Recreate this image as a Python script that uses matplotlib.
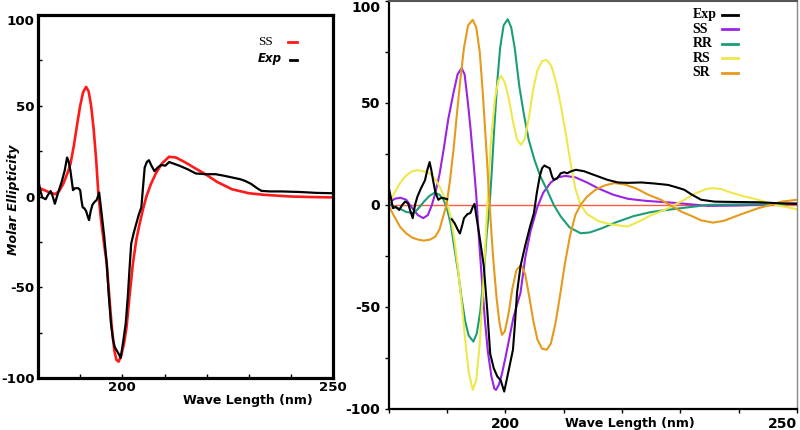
import numpy as np
import matplotlib.pyplot as plt

plt.rcParams['axes.unicode_minus'] = False

# ---- left panel data (SS calc vs experiment) ----
left_ss_x = [180, 181, 182, 183, 184.1, 185, 186, 187, 187.7, 188.5, 189.3, 190, 190.7, 191.4, 192, 192.6,
             193.2, 193.8, 194.3, 194.9, 195.6, 196.3, 196.9, 197.5, 198.1, 198.6, 199.1, 199.7, 200.4, 201,
             201.7, 202.5, 203.3, 204.1, 204.9, 205.7, 206.8, 208, 209.5, 211.1, 212.7, 215, 217.3, 219.7,
             222.5, 226, 230, 233.8, 240, 245, 250]
left_ss_y = [5, 4, 3, 2, 1.3, 3, 7, 13, 18, 28, 40, 50, 57.5, 60.4, 58, 50,
             37, 20, 2, -12, -25, -37, -55, -72, -85, -90, -91, -88, -81, -72,
             -55, -37, -24, -15, -7, 0, 7, 13, 18.5, 21.9, 21.5, 18.7, 15.5, 12.3,
             8, 4, 1.8, 0.9, 0, -0.3, -0.5]

left_exp_x = [180, 180.5, 181, 181.8, 182.4, 183, 183.5, 184, 184.5, 184.9, 185.6, 186.3, 186.9, 187.3, 187.7,
              188.3, 188.7, 189.2, 189.6, 190, 190.3, 190.6, 191, 191.4, 191.8, 192.1, 192.5, 192.9, 193.4,
              193.9, 194.2, 194.5, 195.1, 195.7, 196.3, 196.8, 197.3, 197.8, 198.2, 198.7, 199.2, 199.6, 200.2,
              200.8, 201.3, 201.7, 202.1, 202.7, 203.3, 203.9, 204.5, 204.9, 205.3, 205.8, 206.3, 206.9, 207.6,
              208.4, 209.2, 210.2, 211.1, 212.3, 213.5, 215.5, 217.4, 219.7, 222.1, 224, 226, 228, 229.1, 230.5,
              232, 233, 235, 237.7, 242, 246, 250]
left_exp_y = [9.5, 4, -0.5, -1.5, 1, 3, 0, -4, 0, 3, 8, 14, 21.5, 19, 14,
              3.5, 4.5, 4.6, 4.5, 3.5, -2, -6, -6.5, -8, -11, -13, -8, -4.6, -3,
              -2, 0, 2.2, -9.7, -22, -37, -55, -70, -79, -83, -85, -87, -89, -80,
              -70, -55, -40, -26, -20, -15, -10, -6, 5, 16, 19, 20, 17, 14,
              16, 17.4, 17, 19, 18, 17, 15, 12.7, 12.3, 12.3, 11.5, 10.5, 9.5, 8.6, 7,
              4.5, 3.1, 2.8, 2.8, 2.5, 2, 1.8]

# ---- right panel data ----
exp_x = [180, 180.4, 180.7, 181.2, 181.8, 182.3, 182.8, 183.3, 183.7, 184.1, 184.5, 184.9, 185.5, 186.2, 186.6,
         187, 187.3, 187.6, 188, 188.5, 189, 189.4, 190, 190.4, 190.8, 191.3, 191.8, 192.2, 192.6, 192.9, 193.5,
         194, 194.4, 194.7, 195.1, 195.7, 196.3, 196.9, 197.4, 198, 198.6, 199.2, 199.8, 200.5, 201.3, 201.6,
         202, 202.6, 203.4, 204.2, 204.9, 205.4, 205.9, 206.3, 206.7, 207.2, 207.6, 208, 208.3, 208.9, 209.5,
         210.1, 210.6, 211.3, 212.1, 213.5, 215.2, 217.5, 219.3, 221, 223.3, 225.5, 227.9, 229.5, 230.7, 232,
         233.6, 235.9, 240, 243.4, 247, 250]
exp_y = [8.2, 3, -1.6, -1, -2.5, 0, 1.6, 0.8, -3, -6.5, 0, 4, 8, 12, 17,
         21, 17, 12, 6, 2.5, 3.5, 3.3, 2.8, np.nan, -7, -9, -12, -14, -10, -6.5, -4.5,
         -4, -1, 0.5, -7, -18, -30, -52, -73, -80, -84, -86, -91.5, -82, -71, -60,
         -43, -30, -20, -11, -4, 6, 14, 18, 19.3, 18.5, 18, 14, 12.3, 13, 15.5,
         16, 15.5, 16.5, 17.2, 16.5, 14.7, 12.3, 11, 10.8, 11, 10.5, 9.8, 8.5, 7.4, 5,
         2.5, 1.6, 1.4, 1.3, 0.8, 0.5]

ss_x = [180, 181, 182, 183, 184, 185, 185.9, 186.7, 187.4, 188, 188.7, 189.4, 190.2, 191.1, 191.8, 192.5,
        193, 193.5, 194, 194.5, 195, 195.5, 196, 196.5, 197, 197.6, 198.1, 198.4, 198.9, 199.4, 200, 200.7,
        201.4, 202.6, 203.4, 204.3, 205.5, 206.5, 207.8, 209, 210.3, 212, 214, 216, 218.5, 221, 224, 229,
        234.8, 240, 250]
ss_y = [0.8, 3, 3.5, 2.5, -1.5, -5, -6.5, -5, 0, 6, 15, 27, 42, 55, 64, 67,
        64, 52, 38, 22, 5, -18, -38, -57, -72, -84, -90, -90.7, -88, -83, -75, -65,
        -55, -43, -26, -13, -1, 6, 11, 13.5, 14.2, 13.5, 11, 8, 5, 3, 2, 1,
        -0.5, -0.3, 0.8]

rr_x = [180, 181, 182, 183, 184.2, 185, 186, 187, 187.9, 188.7, 189.4, 190, 190.6, 191.2, 191.9, 192.5,
        193.1, 193.7, 194.5, 195.1, 195.7, 196.3, 196.8, 197.3, 197.7, 198.1, 198.6, 199.1, 199.7, 200.4,
        201, 201.6, 202.4, 203.2, 204, 205, 206, 207.2, 208.3, 209.5, 211, 212.9, 214.5, 216.5, 219, 222,
        225, 229, 234.8, 242, 250]
rr_y = [0.5, -1, -2, -3.5, -4, -2, 1.5, 4.5, 6, 5, 2.5, -2, -9, -20, -33, -46,
        -57, -64, -67, -63, -52, -34, -14, 0, 18, 38, 60, 77, 88, 91,
        87, 77, 58, 44, 32, 22, 14, 7, 0, -5.7, -11, -13.9, -13.5, -11.5, -8.5, -5.5,
        -3.5, -2, 0, 0.3, 0.5]

rs_x = [180, 181, 182, 183, 184, 185, 186, 187, 188, 188.8, 189.5, 190.1, 190.7, 191.3, 191.9, 192.5,
        193.1, 193.7, 194.4, 195, 195.6, 196.2, 196.9, 197.5, 198.2, 198.8, 199.3, 199.9, 200.6, 201.3,
        202, 202.7, 203.4, 204.1, 204.8, 205.5, 206.3, 207.1, 207.9, 208.7, 209.5, 210.3, 211.1, 212,
        212.9, 214, 216, 218, 221, 223, 225, 227.3, 229, 230.7, 232.5, 234.5, 235.6, 237, 238.2, 240.5,
        243.4, 246.3, 250]
rs_y = [0.8, 6, 11, 14.5, 16.5, 17, 16.5, 15.5, 12.5, 8.5, 4, 0, -7, -18, -32, -48,
        -66, -82, -90.7, -86, -68, -40, 0, 30, 52, 61, 63.2, 60, 52, 41,
        32, 29.4, 33, 44, 57, 66, 70.5, 71, 68, 60, 49, 36, 22, 8,
        0, -4.5, -8, -9.5, -10.6, -8, -5, -2.5, 0, 2.5, 5.5, 7.8, 8.2, 7.8, 6.5, 4.5,
        2.5, 0, -2.1]

sr_x = [180, 181, 182, 183, 184, 185, 186, 187.1, 188, 188.7, 189.3, 189.9, 190.5, 191.1, 191.7, 192.3,
        192.9, 193.6, 194.4, 195, 195.6, 196.1, 196.7, 197.3, 197.9, 198.5, 199, 199.4, 199.9, 200.5,
        201.2, 201.9, 202.7, 203.4, 204.1, 204.8, 205.5, 206.3, 207.1, 207.8, 208.6, 209.4, 210.2, 211.1,
        212, 212.9, 214, 215.5, 217, 218.7, 220.5, 222.5, 224.5, 226.7, 228.5, 230.2, 232, 233.5, 235.6,
        237.5, 239.4, 241.5, 243.4, 245.5, 247.4, 250]
sr_y = [-0.5, -6, -11, -14, -16, -17, -17.5, -17, -15.5, -12, -6, 0, 12, 27, 45, 62,
        77, 88, 90.7, 87, 75, 56, 29, 0, -26, -46, -58, -63.7, -62, -54,
        -41, -32, -29.4, -34, -45, -57, -66, -70.5, -71, -68, -58, -44, -29, -15,
        -5, 0, 4, 7.5, 9.5, 10.7, 10, 8, 5, 2.5, -0.5, -3.3, -5.5, -7.5, -8.7,
        -7.8, -5.7, -3.5, -1.6, 0, 1.6, 2.5]

right_names = ['Exp', 'SS', 'RR', 'RS', 'SR']
right_colors = ['black', '#9a24e6', '#1b9e77', '#eee84a', '#e69a1c']

fig = plt.figure(figsize=(8, 4.3), dpi=100)

# left panel
ax1 = fig.add_axes([0.0475, 0.121, 0.369, 0.844])
ax1.plot(left_ss_x, left_ss_y, color='#ff1a1a', lw=1.9)
ax1.plot(left_exp_x, left_exp_y, color='black', lw=1.6)
ax1.set_xlim(180, 250)
ax1.set_ylim(-100, 100)
ax1.set_xticks([200, 250])
ax1.set_xticks(np.arange(180, 251, 10), minor=True)
ax1.set_yticks([-100, -50, 0, 50, 100])
ax1.set_yticks([-75, -25, 25, 75], minor=True)
ax1.tick_params(which='both', direction='in', length=3, width=1, pad=2.5)
for lab in ax1.get_xticklabels() + ax1.get_yticklabels():
    lab.set_fontweight('bold')
    lab.set_fontsize(9.6)
ax1.get_yticklabels()[-1].set_va('top')
for s in ax1.spines.values():
    s.set_linewidth(2.3)
ax1.set_xlabel('Wave Length (nm)', fontsize=9, fontweight='bold')
ax1.xaxis.set_label_coords(0.71, -0.043)
fig.text(14 / 800, 1 - 200 / 430, 'Molar Ellipticity', rotation=90, ha='center', va='center',
         fontsize=9, fontweight='bold', fontstyle='italic')

# left legend, drawn by hand so the labels are left aligned
ax1.text(0.746, 0.926, 'SS', transform=ax1.transAxes, ha='left', va='center',
         family='Liberation Serif', fontsize=9.5)
ax1.plot([0.847, 0.878], [0.926, 0.926], transform=ax1.transAxes, color='#ff1a1a', lw=2, clip_on=False)
ax1.text(0.746, 0.879, 'Exp', transform=ax1.transAxes, ha='left', va='center',
         fontsize=8.5, fontweight='bold', fontstyle='italic')
ax1.plot([0.854, 0.878], [0.877, 0.877], transform=ax1.transAxes, color='black', lw=2, clip_on=False)

# right panel
ax2 = fig.add_axes([0.486, 0.049, 0.51, 0.949])
ax2.axhline(0, color='#ff5a45', lw=1, zorder=1)
ax2.plot(exp_x, exp_y, color=right_colors[0], lw=1.5, zorder=3)
ax2.plot(ss_x, ss_y, color=right_colors[1], lw=1.5, zorder=2)
ax2.plot(rr_x, rr_y, color=right_colors[2], lw=1.5, zorder=2)
ax2.plot(rs_x, rs_y, color=right_colors[3], lw=1.5, zorder=2)
ax2.plot(sr_x, sr_y, color=right_colors[4], lw=1.5, zorder=2)
ax2.set_xlim(180, 250)
ax2.set_ylim(-100, 100)
ax2.set_xticks([200, 250])
ax2.set_xticks(np.arange(180, 251, 10), minor=True)
ax2.set_yticks([-100, -50, 0, 50, 100])
ax2.set_yticks([-75, -25, 25, 75], minor=True)
ax2.tick_params(which='both', direction='out', length=3, width=1, pad=3)
for lab in ax2.get_xticklabels() + ax2.get_yticklabels():
    lab.set_fontweight('bold')
    lab.set_fontsize(10)
ax2.get_xticklabels()[-1].set_ha('right')
ax2.get_yticklabels()[-1].set_va('top')
ax2.spines['left'].set_linewidth(1.6)
ax2.spines['bottom'].set_linewidth(1.6)
ax2.spines['top'].set_linewidth(1.5)
ax2.spines['top'].set_color('#555555')
ax2.spines['right'].set_linewidth(1)
ax2.spines['right'].set_color('#888888')
ax2.set_xlabel('Wave Length (nm)', fontsize=9, fontweight='bold')
ax2.xaxis.set_label_coords(0.59, -0.02)

for i, (name, col) in enumerate(zip(right_names, right_colors)):
    yy = 0.966 - i * 0.0355
    ax2.text(0.745, yy, name, transform=ax2.transAxes, ha='left', va='center',
             family='Liberation Serif', fontweight='bold', fontsize=10)
    ax2.plot([0.816, 0.855], [yy, yy], transform=ax2.transAxes, color=col, lw=2, clip_on=False)

fig.savefig('out.png', dpi=100)
